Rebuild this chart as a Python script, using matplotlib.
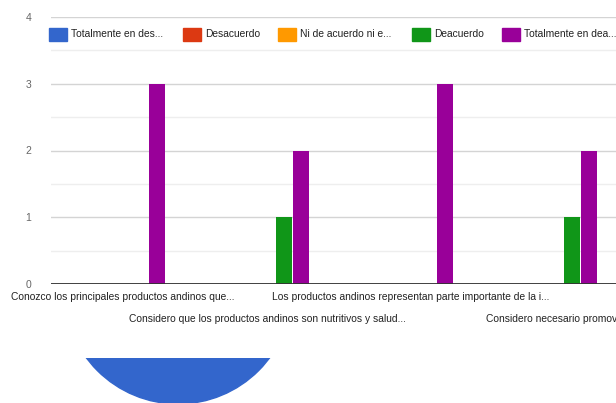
import numpy as np
import matplotlib
matplotlib.use("Agg")
import matplotlib.pyplot as plt
from matplotlib.patches import Rectangle, Circle

plt.rcParams['font.family'] = ['Liberation Sans', 'DejaVu Sans']

# data
categories = [
    "Conozco los principales productos andinos que...",
    "Considero que los productos andinos son nutritivos y salud...",
    "Los productos andinos representan parte importante de la i...",
    "Considero necesario promov...",
]
series_names = ["Totalmente en des...", "Desacuerdo", "Ni de acuerdo ni e...",
                "Deacuerdo", "Totalmente en dea..."]
series_colors = ["#3366cc", "#dc3912", "#ff9900", "#109618", "#990099"]
totalmente_desacuerdo = [0, 0, 0, 0]
desacuerdo = [0, 0, 0, 0]
neutral = [0, 0, 0, 0]
de_acuerdo = [0, 1, 0, 1]
totalmente_acuerdo = [3, 2, 3, 2]
series_values = [totalmente_desacuerdo, desacuerdo, neutral, de_acuerdo, totalmente_acuerdo]
y_ticks = [0, 1, 2, 3, 4]

W, H = 616, 403
fig = plt.figure(figsize=(W / 100, H / 100), dpi=100)

# main bar axes, placed in pixel terms
left_px, right_px, top_px, bottom_px = 51, 616, 17, 284
ax = fig.add_axes([left_px / W, (H - bottom_px) / H,
                   (right_px - left_px) / W, (bottom_px - top_px) / H])

x = np.arange(len(categories))
step = 0.118
for k, (vals, col) in enumerate(zip(series_values, series_colors)):
    ax.bar(x + (k - 2) * step, vals, width=0.112, color=col, zorder=3)

ax.set_xlim(-0.5, -0.5 + (right_px - left_px) / 144)
ax.set_ylim(0, 4)
ax.set_yticks(y_ticks)
ax.set_yticks([0.5, 1.5, 2.5, 3.5], minor=True)
ax.grid(axis='y', which='major', color='#d4d4d4', linewidth=1, zorder=0)
ax.grid(axis='y', which='minor', color='#eeeeee', linewidth=1, zorder=0)
ax.axhline(0, color='#333333', linewidth=1.3, zorder=4)
for s in ax.spines.values():
    s.set_visible(False)
ax.tick_params(axis='y', which='both', length=0, pad=14, labelsize=7.5, labelcolor='#666666')
ax.tick_params(axis='x', length=0)
ax.set_xticks([])

# category labels in two alternating rows
for i, lab in enumerate(categories):
    off = -13 if i % 2 == 0 else -35
    ax.annotate(lab, xy=(i, 0), xycoords=('data', 'axes fraction'),
                xytext=(0, off), textcoords='offset pixels',
                ha='center', va='center', fontsize=7.4, color='#222222',
                annotation_clip=False)

# legend row at top
leg_x = [49, 183, 278, 412, 502]
for lx, name, col in zip(leg_x, series_names, series_colors):
    fig.patches.append(Rectangle((lx / W, (H - 41) / H), 18 / W, 13 / H,
                                 color=col, transform=fig.transFigure))
    fig.text((lx + 22) / W, (H - 34) / H, name, fontsize=7.4, color='#222222',
             ha='left', va='center')

# piece of the next chart's pie showing at the bottom
ax2 = fig.add_axes([0, 0, 1, (H - 358) / H])
ax2.set_xlim(0, W)
ax2.set_ylim(H, 358)
ax2.add_patch(Circle((178, 290), 114, color='#3366cc'))
ax2.axis('off')

fig.savefig("out.png", dpi=100)
